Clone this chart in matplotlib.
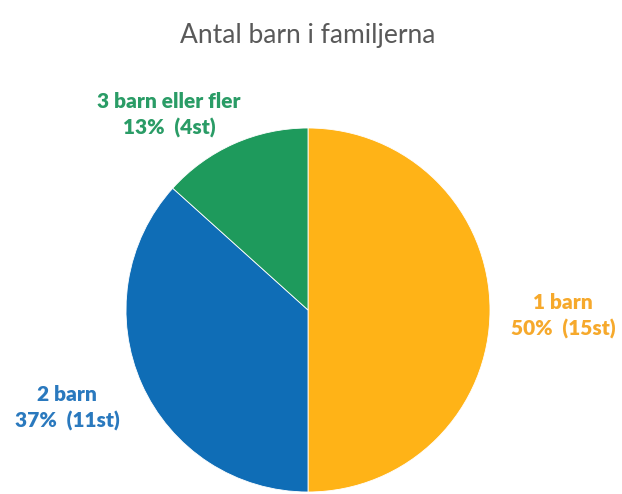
import matplotlib
matplotlib.use("Agg")
import matplotlib.pyplot as plt

categories = ["1 barn", "2 barn", "3 barn eller fler"]
counts = [15, 11, 4]
colors = ["#FFB317", "#0F6DB6", "#1E9A5C"]
text_colors = ["#F6A92C", "#2A79BE", "#2A9C66"]

plt.rcParams["font.family"] = ["Lato", "DejaVu Sans"]

fig = plt.figure(figsize=(6.22, 4.94), dpi=100)
fig.patch.set_facecolor("white")

# pie axes: center at (308, 310) px, radius 182 px
W, H = 622, 494
cx, cy, r = 308, 310, 182
ax = fig.add_axes([(cx - r) / W, (H - cy - r) / H, 2 * r / W, 2 * r / H])
ax.pie(counts, colors=colors, startangle=90, counterclock=False, radius=1,
       wedgeprops=dict(edgecolor="white", linewidth=0.6))
ax.set_xlim(-1, 1)
ax.set_ylim(-1, 1)
ax.set_aspect("equal")
ax.axis("off")

total = sum(counts)
label_pos = [(1.401, -0.033), (-1.324, -0.538), (-0.764, 1.071)]
for cat, n, col, (x, y) in zip(categories, counts, text_colors, label_pos):
    pct = round(100 * n / total)
    ax.text(x, y, f"{cat}\n{pct}%  ({n}st)", color=col, ha="center", va="center",
            fontsize=15, fontweight="heavy", linespacing=1.4, clip_on=False)

fig.text(cx / W, 1 - 35 / H, "Antal barn i familjerna", ha="center", va="center",
         fontsize=19, color="#595959")

fig.savefig("out.png", dpi=100)
